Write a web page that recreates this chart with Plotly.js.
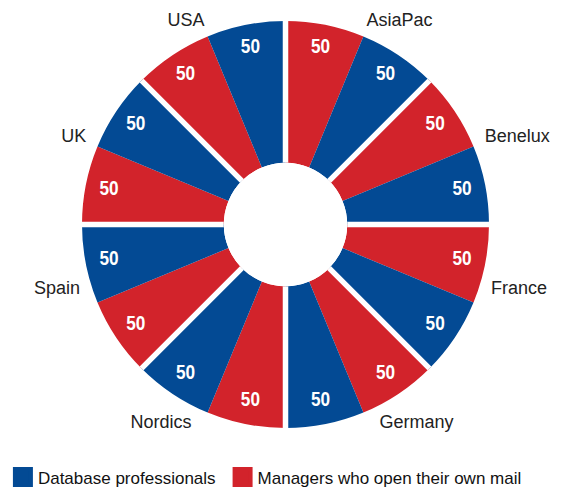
<!DOCTYPE html>
<html>
<head>
<meta charset="utf-8">
<script src="https://cdn.plot.ly/plotly-3.0.1.min.js"></script>
<style>html,body{margin:0;padding:0;background:#fff}#chart{width:583px;height:489px}</style>
</head>
<body>
<div id="chart"></div>
<script>
// Regions, clockwise from the top
const categories = ["AsiaPac", "Benelux", "France", "Germany", "Nordics", "Spain", "UK", "USA"];
const databaseProfessionals = [50, 50, 50, 50, 50, 50, 50, 50];
const managersOwnMail = [50, 50, 50, 50, 50, 50, 50, 50];
const seriesNames = ["Database professionals", "Managers who open their own mail"];

const BLUE = "#034a94";
const RED = "#d2232b";
const RMAX = 50;
const step = 360 / categories.length;
const half = step / 2;

const thetaRed = categories.map((c, i) => i * step + half / 2);
const thetaBlue = categories.map((c, i) => i * step + half + half / 2);
const thetaCat = categories.map((c, i) => i * step + half);

const valueFont = {family: "Liberation Sans, Arial, sans-serif", size: 21, color: "#ffffff", weight: 700};

// white separators between categories
const sepTheta = [], sepR = [];
categories.forEach((c, i) => { sepTheta.push(i * step, i * step, null); sepR.push(0, RMAX, null); });

// category label placement rule: just outside the ring, nudged toward the horizontal
const catLabel = thetaCat.map(a => {
  const rad = a * Math.PI / 180;
  const c = Math.cos(rad), s = Math.sin(rad);
  const lower = c < -0.7;
  const shift = 2 * (1 - c);
  const toward = s > 0 ? Math.sign(90 - a) : Math.sign(270 - a);
  return {
    theta: a + toward * shift,
    r: RMAX * (lower ? 1.06 : 1.0458 + 0.0423 * (1 - c)),
    pos: (lower ? "bottom" : "top") + " " + (s > 0 ? "right" : "left")
  };
});

const traces = [
  {type: "barpolar", name: seriesNames[1], r: managersOwnMail, theta: thetaRed, width: half,
   marker: {color: RED, line: {width: 0}}, showlegend: false, hoverinfo: "skip"},
  {type: "barpolar", name: seriesNames[0], r: databaseProfessionals, theta: thetaBlue, width: half,
   marker: {color: BLUE, line: {width: 0}}, showlegend: false, hoverinfo: "skip"},
  {type: "scatterpolar", mode: "lines", r: sepR, theta: sepTheta, connectgaps: false,
   line: {color: "#ffffff", width: 5.5}, showlegend: false, hoverinfo: "skip"},
  {type: "scatterpolar", mode: "text", r: managersOwnMail.map(v => v * 0.834), theta: thetaRed,
   text: managersOwnMail.map(String), textfont: valueFont, showlegend: false, hoverinfo: "skip"},
  {type: "scatterpolar", mode: "text", r: databaseProfessionals.map(v => v * 0.834), theta: thetaBlue,
   text: databaseProfessionals.map(String), textfont: valueFont, showlegend: false, hoverinfo: "skip"},
  {type: "scatterpolar", mode: "text", r: catLabel.map(d => d.r), theta: catLabel.map(d => d.theta),
   text: categories, textposition: catLabel.map(d => d.pos), cliponaxis: false,
   textfont: {family: "Liberation Sans, Arial, sans-serif", size: 18, color: "#222222"},
   showlegend: false, hoverinfo: "skip"},
  // legend entries
  {type: "scatterpolar", mode: "markers", name: seriesNames[0], r: [null], theta: [null],
   marker: {symbol: "square", size: 16, color: BLUE, line: {color: BLUE, width: 4}}},
  {type: "scatterpolar", mode: "markers", name: seriesNames[1], r: [null], theta: [null],
   marker: {symbol: "square", size: 16, color: RED, line: {color: RED, width: 4}}}
];

const layout = {
  width: 583, height: 489,
  margin: {l: 0, r: 0, t: 0, b: 0, autoexpand: false},
  paper_bgcolor: "#ffffff",
  font: {family: "Liberation Sans, Arial, sans-serif", color: "#222222"},
  polar: {
    domain: {x: [0.10635, 0.87307], y: [0.083845, 0.99796]},
    hole: 0.27606,
    bgcolor: "rgba(0,0,0,0)",
    barmode: "overlay",
    radialaxis: {visible: false, range: [0, RMAX * 1.141]},
    angularaxis: {
      type: "linear", thetaunit: "degrees", rotation: 90, direction: "clockwise",
      showticklabels: false, showgrid: false, showline: false, ticks: ""
    }
  },
  showlegend: true,
  legend: {orientation: "h", x: 0.005, xanchor: "left", y: 0.0235, yanchor: "middle",
           font: {size: 17, color: "#111111"}, itemsizing: "trace", traceorder: "normal",
           bgcolor: "rgba(0,0,0,0)"}
};

Plotly.newPlot("chart", traces, layout, {displayModeBar: false, staticPlot: true}).then(gd => {
  // condensed look for the value labels
  gd.querySelectorAll(".textpoint text").forEach(t => {
    const fw = t.style.fontWeight;
    if (fw === "700" || fw === "bold") {
      t.style.transformBox = "fill-box";
      t.style.transformOrigin = "center";
      t.style.transform = "scaleX(0.82)";
    }
  });
  // tighter gap between legend swatch and text
  gd.querySelectorAll(".legendtext").forEach(t => t.setAttribute("x", 35));
  const items = gd.querySelectorAll(".legend .traces");
  if (items.length > 1) {
    const m = /translate\(([-\d.]+),\s*([-\d.]+)\)/.exec(items[1].getAttribute("transform") || "");
    if (m) items[1].setAttribute("transform", "translate(" + (parseFloat(m[1]) - 3) + "," + m[2] + ")");
  }
});
</script>
</body>
</html>
